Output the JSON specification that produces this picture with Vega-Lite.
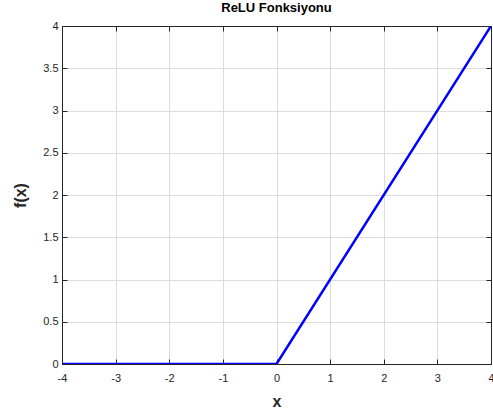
{
  "$schema": "https://vega.github.io/schema/vega-lite/v6.json",
  "autosize": {"type": "none"},
  "padding": {"left": 62, "top": 26, "right": 2, "bottom": 50},
  "width": 429,
  "height": 338,
  "background": "white",
  "config": {
    "font": "Liberation Sans",
    "view": {"stroke": "#262626", "strokeWidth": 1},
    "axis": {
      "labelFont": "Liberation Sans",
      "labelFontSize": 11,
      "labelColor": "#262626",
      "domainColor": "#262626",
      "tickColor": "#262626",
      "tickSize": -5,
      "gridColor": "#dcdcdc",
      "gridWidth": 1,
      "titleFont": "Liberation Sans",
      "titleFontWeight": "bold",
      "titleFontSize": 16,
      "titleColor": "#262626"
    }
  },
  "title": {"text": "ReLU Fonksiyonu", "fontSize": 13, "fontWeight": "bold", "font": "Liberation Sans", "color": "#000000", "offset": 5},
  "data": {"values": [{"x": -4, "y": 0}, {"x": 0, "y": 0}, {"x": 4, "y": 4}]},
  "layer": [
    {
      "mark": {"type": "line", "color": "#0000FF", "strokeWidth": 2.5, "clip": true},
      "encoding": {
        "x": {"field": "x", "type": "quantitative", "scale": {"domain": [-4, 4], "nice": false},
          "axis": {"orient": "bottom", "values": [-4, -3, -2, -1, 0, 1, 2, 3, 4], "labelExpr": "'' + datum.value", "labelPadding": 13, "title": "x", "titlePadding": 10, "labelFlush": false, "labelOverlap": false}},
        "y": {"field": "y", "type": "quantitative", "scale": {"domain": [0, 4], "nice": false},
          "axis": {"orient": "left", "values": [0, 0.5, 1, 1.5, 2, 2.5, 3, 3.5, 4], "labelExpr": "'' + datum.value", "labelPadding": 9, "title": "f(x)", "titlePadding": 14, "labelFlush": false, "labelOverlap": false}}
      }
    },
    {
      "mark": {"type": "line", "opacity": 0},
      "encoding": {
        "x": {"field": "x", "type": "quantitative", "scale": {"domain": [-4, 4], "nice": false},
          "axis": {"orient": "top", "values": [-4, -3, -2, -1, 0, 1, 2, 3, 4], "labels": false, "title": null, "grid": false}},
        "y": {"field": "y", "type": "quantitative", "scale": {"domain": [0, 4], "nice": false},
          "axis": {"orient": "right", "values": [0, 0.5, 1, 1.5, 2, 2.5, 3, 3.5, 4], "labels": false, "title": null, "grid": false}}
      }
    }
  ],
  "resolve": {"axis": {"x": "independent", "y": "independent"}}
}
